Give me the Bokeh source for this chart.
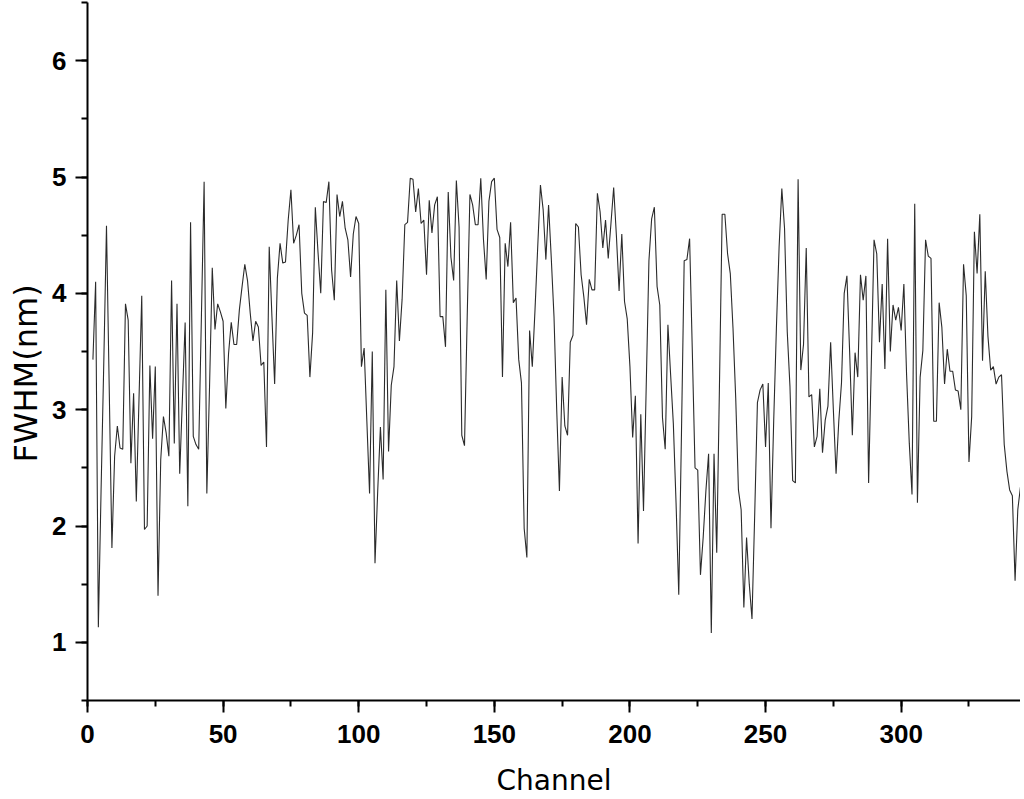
from bokeh.plotting import figure
from bokeh.models import SingleIntervalTicker, Range1d, Title
from bokeh.embed import file_html
from bokeh.resources import INLINE

first_channel = 2
fwhm = [
    3.43, 4.10, 1.13, 2.30, 3.40, 4.58, 3.20, 1.81, 2.60, 2.86,
    2.67, 2.66, 3.91, 3.77, 2.54, 3.14, 2.21, 3.10, 3.98, 1.97,
    2.00, 3.38, 2.75, 3.37, 1.40, 2.57, 2.94, 2.80, 2.60, 4.11,
    2.71, 3.91, 2.45, 3.10, 3.75, 2.17, 4.61, 2.77, 2.70, 2.66,
    3.80, 4.96, 2.28, 3.20, 4.22, 3.69, 3.91, 3.84, 3.76, 3.01,
    3.48, 3.75, 3.56, 3.56, 3.86, 4.06, 4.25, 4.11, 3.83, 3.59,
    3.76, 3.71, 3.38, 3.41, 2.68, 4.40, 3.80, 3.22, 4.13, 4.43,
    4.26, 4.27, 4.63, 4.89, 4.43, 4.50, 4.59, 4.00, 3.83, 3.81,
    3.28, 3.66, 4.74, 4.35, 4.00, 4.79, 4.78, 4.96, 4.20, 3.94,
    4.85, 4.66, 4.79, 4.56, 4.46, 4.14, 4.51, 4.66, 4.60, 3.37,
    3.53, 2.90, 2.28, 3.50, 1.68, 2.30, 2.85, 2.40, 4.03, 2.64,
    3.21, 3.37, 4.11, 3.59, 3.95, 4.59, 4.61, 4.99, 4.98, 4.70,
    4.90, 4.60, 4.63, 4.16, 4.80, 4.52, 4.76, 4.83, 3.80, 3.80,
    3.54, 4.87, 4.31, 4.11, 4.97, 4.57, 2.78, 2.69, 3.80, 4.85,
    4.76, 4.59, 4.59, 4.99, 4.46, 4.12, 4.79, 4.96, 4.99, 4.55,
    4.48, 3.28, 4.43, 4.23, 4.61, 3.92, 3.96, 3.43, 3.23, 1.98,
    1.73, 3.68, 3.37, 3.86, 4.40, 4.93, 4.72, 4.29, 4.76, 4.30,
    3.80, 3.00, 2.30, 3.28, 2.86, 2.78, 3.58, 3.64, 4.60, 4.57,
    4.16, 3.97, 3.73, 4.12, 4.03, 4.03, 4.86, 4.70, 4.39, 4.63,
    4.30, 4.60, 4.91, 4.50, 4.02, 4.51, 3.93, 3.78, 3.37, 2.76,
    3.12, 1.85, 2.96, 2.13, 3.20, 4.28, 4.64, 4.74, 4.06, 3.90,
    2.93, 2.66, 3.73, 3.30, 2.88, 2.20, 1.41, 2.80, 4.28, 4.29,
    4.47, 3.50, 2.50, 2.48, 1.58, 1.90, 2.30, 2.62, 1.08, 2.62,
    1.77, 3.20, 4.68, 4.68, 4.34, 4.17, 3.70, 3.10, 2.31, 2.14,
    1.30, 1.90, 1.50, 1.20, 2.10, 3.06, 3.17, 3.22, 2.68, 3.23,
    1.98, 2.90, 3.70, 4.40, 4.90, 4.56, 3.67, 3.20, 2.39, 2.37,
    4.98, 3.34, 3.56, 4.39, 3.11, 3.13, 2.68, 2.77, 3.18, 2.63,
    2.91, 3.03, 3.58, 3.00, 2.45, 2.90, 3.23, 4.00, 4.15, 3.50,
    2.78, 3.49, 3.28, 4.16, 3.94, 4.15, 2.37, 3.40, 4.46, 4.34,
    3.58, 4.08, 3.35, 4.47, 3.50, 3.90, 3.77, 3.88, 3.68, 4.08,
    3.30, 2.71, 2.27, 4.77, 2.20, 3.28, 3.51, 4.46, 4.32, 4.30,
    2.90, 2.90, 3.92, 3.71, 3.22, 3.52, 3.33, 3.33, 3.17, 3.16,
    3.00, 4.25, 3.98, 2.55, 2.94, 4.53, 4.17, 4.68, 3.42, 4.19,
    3.63, 3.34, 3.37, 3.22, 3.28, 3.30, 2.70, 2.47, 2.31, 2.26,
    1.53, 2.14, 2.34, 1.75,
]
channel = list(range(first_channel, first_channel + len(fwhm)))

x_label = "Channel"
y_label = "FWHM(nm)"

p = figure(width=1020, height=799, output_backend="svg", toolbar_location=None,
           x_range=Range1d(0, 344), y_range=Range1d(0.5, 6.5),
           min_border_left=87, min_border_right=0, min_border_top=2, min_border_bottom=0)
p.outline_line_color = None
p.xgrid.visible = False
p.ygrid.visible = False
p.background_fill_color = "white"
p.border_fill_color = "white"

p.line(channel, fwhm, line_color="#2b2b2b", line_width=1.1)

p.xaxis.ticker = SingleIntervalTicker(interval=50, num_minor_ticks=2)
p.yaxis.ticker = SingleIntervalTicker(interval=1, num_minor_ticks=2)

for ax in (p.xaxis[0], p.yaxis[0]):
    ax.axis_line_width = 2
    ax.axis_line_color = "black"
    ax.major_tick_line_width = 2
    ax.minor_tick_line_width = 2
    ax.major_tick_line_color = "black"
    ax.minor_tick_line_color = "black"
    ax.major_tick_in = 0
    ax.major_tick_out = 12
    ax.minor_tick_in = 0
    ax.minor_tick_out = 6
    ax.major_label_text_font = "Liberation Sans"
    ax.major_label_text_font_style = "bold"
    ax.major_label_text_font_size = "26px"
    ax.major_label_text_color = "black"
    ax.axis_label_text_font = "DejaVu Sans"
    ax.axis_label_text_font_style = "normal"
    ax.axis_label_text_color = "black"

p.xaxis.axis_label = x_label
p.xaxis.axis_label_text_font_size = "28px"
p.xaxis.major_label_standoff = 12
p.xaxis.axis_label_standoff = 18

p.yaxis.major_label_standoff = 9

ytitle = Title(text=y_label, align="left", offset=238, standoff=9,
               text_font="DejaVu Sans", text_font_size="32px",
               text_font_style="normal", text_color="black")
p.add_layout(ytitle, "left")

open("out.html", "w").write(file_html(p, INLINE))
